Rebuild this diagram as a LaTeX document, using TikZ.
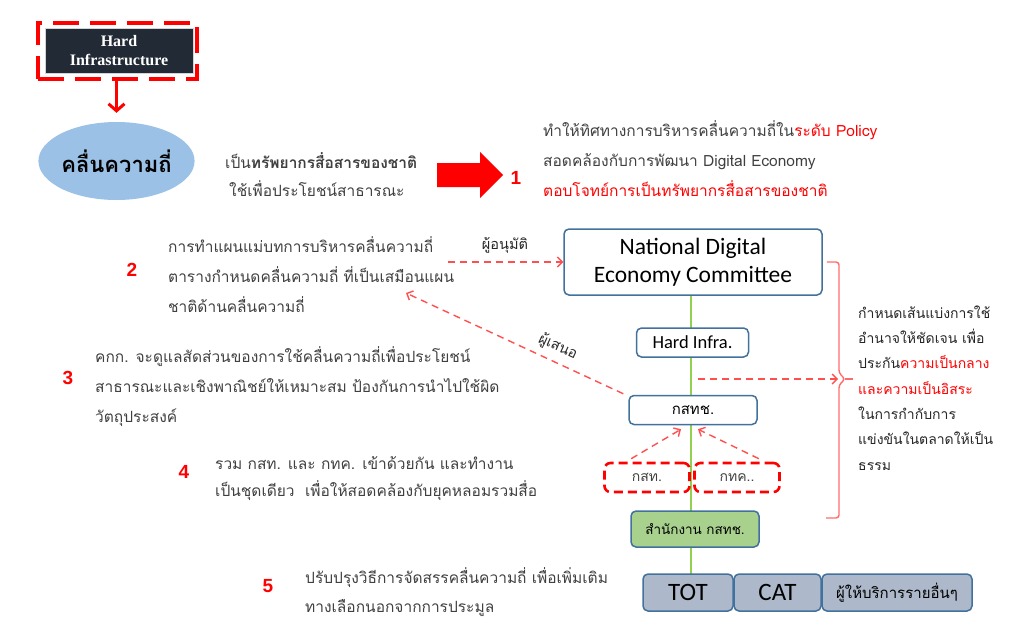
\documentclass[tikz,border=0pt]{standalone}
\usepackage{fontspec}
\setmainfont{Liberation Sans}
\newfontfamily\thai[Script=Thai]{Loma}
\newfontfamily\calfont{Carlito}
\newfontfamily\serifbold{Liberation Serif}
\usetikzlibrary{arrows.meta,calc,shapes.geometric}
\definecolor{navy}{HTML}{222A35}
\definecolor{ellblue}{HTML}{9BC2E6}
\definecolor{tgray}{HTML}{404040}
\definecolor{lred}{HTML}{FF5050}
\definecolor{bracered}{HTML}{FF6B6B}
\definecolor{boxblue}{HTML}{41719C}
\definecolor{lgreen}{HTML}{92D050}
\definecolor{gfill}{HTML}{A9D18E}
\definecolor{bgfill}{HTML}{ADB9CA}
\begin{document}
\begin{tikzpicture}[x=1pt,y=-1pt,
  txt/.style={font=\thai\fontsize{15.5}{30}\selectfont, text=tgray, align=left, anchor=base west, inner sep=0pt},
  num/.style={font=\bfseries\fontsize{19}{19}\selectfont, text=red, inner sep=0pt},
  bluebox/.style={draw=boxblue, line width=1.5pt, rounded corners=5pt, fill=white, inner sep=0pt},
  rdash/.style={draw=lred, line width=1.4pt, dash pattern=on 7pt off 5pt},
  rarrow/.style={rdash, -{Straight Barb[length=5pt,width=10pt]}},
  reddashbox/.style={draw=red, line width=2.6pt, dash pattern=on 9pt off 5pt, rounded corners=6pt, inner sep=0pt, minimum width=85pt, minimum height=29pt, font=\thai\fontsize{14}{14}\selectfont, text=tgray}
]
\useasboundingbox (0,0) rectangle (1011,637);

% Hard Infrastructure
\node[draw=red, line width=4pt, dash pattern=on 26pt off 11pt, minimum width=159pt, minimum height=56pt, inner sep=0pt] (hidash) at (117.5,51) {};
\node[fill=navy, draw=white!80!navy, line width=0.8pt, minimum width=148pt, minimum height=45pt, inner sep=0pt, align=center, text=white, font=\serifbold\bfseries\fontsize{16}{19}\selectfont] (hi) at (119,50.5) {Hard\\Infrastructure};
\node[ellipse, fill=ellblue, minimum width=143pt, minimum height=78pt, inner sep=0pt, font=\thai\bfseries\fontsize{22}{22}\selectfont] (freq) at (116.5,161) {คลื่นความถี่};
\draw[red, line width=3pt, -{Straight Barb[length=7pt,width=16pt]}] (hidash.south -| freq.north) -- ([yshift=9pt]freq.north);

% national resource text
\node[txt, font=\thai\fontsize{15.5}{28}\selectfont] (res) at (225,196) {เป็น\textbf{ทรัพยากรสื่อสารของชาติ}\\\hspace*{4pt}ใช้เพื่อประโยชน์สาธารณะ};
\fill[red] (437,163) -- (480,163) -- (480,152) -- (503,175) -- (480,198) -- (480,187) -- (437,187) -- cycle;
\node[num] (n1) at (516,178) {1};
\node[txt] (t1) at (543,196) {ทำให้ทิศทางการบริหารคลื่นความถี่ใน{\color{red}ระดับ Policy}\\สอดคล้องกับการพัฒนา Digital Economy\\{\color{red}ตอบโจทย์การเป็นทรัพยากรสื่อสารของชาติ}};

% block 2
\node[num] (n2) at (132,270) {2};
\node[txt] (t2) at (168,312) {การทำแผนแม่บทการบริหารคลื่นความถี่\\ตารางกำหนดคลื่นความถี่ ที่เป็นเสมือนแผน\\ชาติด้านคลื่นความถี่};

% block 3
\node[num] (n3) at (68,378) {3};
\node[txt] (t3) at (95,422) {คกก. จะดูแลสัดส่วนของการใช้คลื่นความถี่เพื่อประโยชน์\\สาธารณะและเชิงพาณิชย์ให้เหมาะสม ป้องกันการนำไปใช้ผิด\\วัตถุประสงค์};

% block 4
\node[num] (n4) at (184,472) {4};
\node[txt, font=\thai\fontsize{15.5}{27}\selectfont] (t4) at (215,496) {รวม กสท. และ กทค. เข้าด้วยกัน และทำงาน\\เป็นชุดเดียว\ \ เพื่อให้สอดคล้องกับยุคหลอมรวมสื่อ};

% block 5
\node[num] (n5) at (268,586) {5};
\node[txt, font=\thai\fontsize{15.5}{29}\selectfont] (t5) at (305,612) {ปรับปรุงวิธีการจัดสรรคลื่นความถี่ เพื่อเพิ่มเติม\\ทางเลือกนอกจากการประมูล};

% right column structure
\node[bluebox, minimum width=258pt, minimum height=66pt, align=center, font=\calfont\fontsize{23.5}{28}\selectfont, text=black] (ndec) at (693,262) {National Digital\\Economy Committee};
\draw[lgreen, line width=2.6pt] (ndec.south -| 691,0) -- (691,574);
\node[bluebox, minimum width=112pt, minimum height=29pt, font=\calfont\fontsize{18.5}{18.5}\selectfont, text=black] (hinfra) at (692.5,342.5) {Hard Infra.};
\node[bluebox, minimum width=128pt, minimum height=29pt, font=\thai\fontsize{15}{15}\selectfont, text=black] (kstch) at (693,410) {กสทช.};
\node[reddashbox] (kst) at (647,477.5) {กสท.};
\node[reddashbox] (ktk) at (737,477.5) {กทค..};
\node[bluebox, minimum width=128pt, minimum height=36pt, fill=gfill, font=\thai\fontsize{13.5}{13.5}\selectfont, text=black] (office) at (695,529) {สำนักงาน กสทช.};
\node[bluebox, minimum width=90pt, minimum height=37pt, fill=bgfill, font=\calfont\fontsize{25}{25}\selectfont, text=black] (tot) at (688,592.5) {TOT};
\node[bluebox, minimum width=87pt, minimum height=37pt, fill=bgfill, font=\calfont\fontsize{25}{25}\selectfont, text=black] (cat) at (777.5,592.5) {CAT};
\node[bluebox, minimum width=150pt, minimum height=37pt, fill=bgfill, font=\thai\fontsize{15}{15}\selectfont, text=black] (others) at (897,592.5) {ผู้ให้บริการรายอื่นๆ};

% connectors
\coordinate (apstart) at (448,262);
\node[font=\thai\fontsize{14.5}{14.5}\selectfont, text=black!85] (approver) at (505,245) {ผู้อนุมัติ};
\draw[rarrow] (apstart) -- (ndec.west |- apstart);
\coordinate (proptip) at (406,293);
\draw[rarrow] ([xshift=-5pt,yshift=1pt]kstch.north west) -- node[pos=0.33, sloped, above=3pt, font=\thai\fontsize{14.5}{14.5}\selectfont, text=black!85] (proposer) {ผู้เสนอ} (proptip);
\draw[rarrow] ([xshift=28pt,yshift=3pt]kst.north west) -- ([xshift=-12pt,yshift=-4pt]kstch.south);
\draw[rarrow] ([xshift=-22pt,yshift=3pt]ktk.north east) -- ([xshift=5pt,yshift=-4pt]kstch.south);

% brace
\draw[bracered, line width=1.4pt, rounded corners=3pt] ([xshift=4pt]ndec.east |- 0,262) -- (839,262) -- (839,373) -- (845,379) -- (839,385) -- (839,518) -- (826,518);
\draw[bracered, line width=1.4pt] (845,379) -- (853,379);
\coordinate (bracein) at (838,379);
\draw[rarrow] (698,379) -- (bracein);
\node[txt, font=\thai\fontsize{14}{25.3}\selectfont, text=black!85] (t6) at (858,470) {กำหนดเส้นแบ่งการใช้\\อำนาจให้ชัดเจน เพื่อ\\ประกัน{\color{red}ความเป็นกลาง}\\{\color{red}และความเป็นอิสระ}\\ในการกำกับการ\\แข่งขันในตลาดให้เป็น\\ธรรม};
\end{tikzpicture}
\end{document}
